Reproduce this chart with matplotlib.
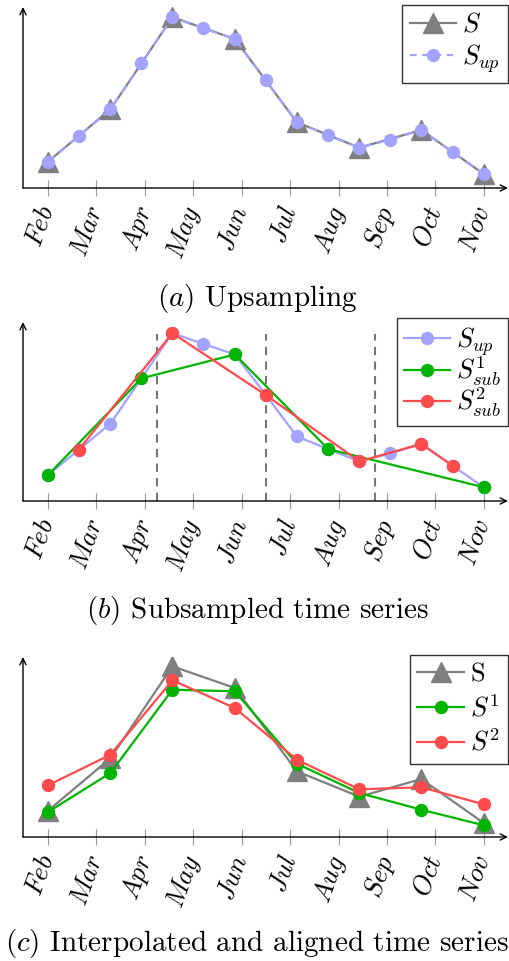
import matplotlib
matplotlib.use("Agg")
import matplotlib.pyplot as plt
from matplotlib.lines import Line2D

plt.rcParams['mathtext.fontset'] = 'cm'
plt.rcParams['font.family'] = ['cmr10', 'DejaVu Sans']
plt.rcParams['axes.unicode_minus'] = False

months = ['Feb', 'Mar', 'Apr', 'May', 'Jun', 'Jul', 'Aug', 'Sep', 'Oct', 'Nov']
month_pos = [0, 1, 2, 3, 4, 5, 6, 7, 8, 9]

# original series S (8 samples)
s_time = [0, 1.29, 2.57, 3.86, 5.14, 6.43, 7.71, 9]
s_vals = [26.3, 78.7, 170.7, 149, 65.7, 40.3, 58, 14]

# upsampled series S_up (15 samples)
sup_time = [0, 0.64, 1.29, 1.93, 2.57, 3.21, 3.86, 4.5, 5.14, 5.79, 6.43, 7.07, 7.71, 8.36, 9]
sup_vals = [26.3, 52.3, 78.7, 124.7, 170.7, 159.7, 149, 107.7, 65.7, 52.7, 40.3, 48.3, 58, 35.7, 14]

# subsampled series
sub1_time = [0, 1.93, 3.86, 5.79, 9]
sub1_vals = [26.3, 124.7, 149, 52.7, 14]
sub2_time = [0.64, 2.57, 4.5, 6.43, 7.71, 8.36]
sub2_vals = [52.3, 170.7, 107.7, 40.3, 58, 35.7]
cut_times = [2.25, 4.5, 6.75]
cut_top = 170

# interpolated & aligned series
s1_vals = [25, 64, 147.3, 145.7, 73.3, 44, 27.3, 11.7]
s2_vals = [51.7, 82.3, 156.7, 129, 77.3, 47.7, 49.7, 32.7]

GRAY = '#7f7f7f'
LAV = '#a3a3ff'
GREEN = '#00b400'
RED = '#ff4b4b'

W, H = 509, 961
fig = plt.figure(figsize=(W / 100, H / 100), dpi=100)

TICKFS = 19
LEGFS = 19
CAPFS = 21

XL = (-0.516, 9.5)


def make_axes(top_px, axis_px, ytop):
    left = 23
    right = 508
    ax = fig.add_axes([left / W, (H - axis_px) / H, (right - left) / W, (axis_px - top_px) / H])
    ax.set_xlim(*XL)
    ax.set_ylim(0, ytop)
    for sp in ax.spines.values():
        sp.set_visible(False)
    ax.set_yticks([])
    ax.set_xticks(month_pos)
    ax.set_xticklabels(['$' + m + '$' for m in months], rotation=70, ha='right',
                       va='center', rotation_mode='anchor', fontsize=TICKFS)
    ax.tick_params(axis='x', direction='inout', length=11, width=0.8, color='#9a9a9a', pad=8)
    ax.patch.set_alpha(0)
    ap = dict(arrowstyle='->,head_length=0.45,head_width=0.22', lw=1.0, color='black',
              shrinkA=0, shrinkB=0)
    ax.annotate('', xy=(1, 0), xytext=(0, 0), xycoords='axes fraction', arrowprops=ap,
                annotation_clip=False)
    ax.annotate('', xy=(0, 1), xytext=(0, 0), xycoords='axes fraction', arrowprops=ap,
                annotation_clip=False)
    return ax


def legend(ax, handles, labels, x_right_px, y_top_px, spacing, bpad=0.3):
    lg = ax.legend(handles, labels, loc='upper right',
                   bbox_to_anchor=(x_right_px / W, 1 - y_top_px / H),
                   bbox_transform=fig.transFigure, fontsize=LEGFS, frameon=True,
                   fancybox=False, edgecolor='#333333', framealpha=1,
                   handlelength=1.75, handletextpad=0.25, borderpad=bpad,
                   labelspacing=spacing, borderaxespad=0)
    lg.get_frame().set_linewidth(1.0)
    return lg


TRI = dict(marker='^', markersize=15, color=GRAY, lw=1.6)
DOT = dict(marker='o', markersize=8.6, lw=1.6)

# ---------- (a) ----------
axa = make_axes(7, 188, 181)
axa.plot(s_time, s_vals, **TRI, zorder=2)
axa.plot(sup_time, sup_vals, color=LAV, ls=(0, (4, 2.5)), marker='o', markersize=8.6, lw=1.6, zorder=3)
ha = [Line2D([], [], **TRI),
      Line2D([], [], color=LAV, ls=(0, (3, 2.5)), marker='o', markersize=8.6, lw=1.6)]
legend(axa, ha, ['$S$', '$S_{up}$'], 508, 5, 0.2)
fig.text(257 / W, 1 - 306 / H, r'$(a)$ Upsampling', ha='center', va='baseline', fontsize=CAPFS)

# ---------- (b) ----------
axb = make_axes(322, 501, 182)
axb.vlines(cut_times, 0, cut_top, colors='#777777', linestyles=(0, (4, 3)), lw=1.5, zorder=1)
axb.plot(sup_time, sup_vals, color=LAV, **DOT, zorder=2)
axb.plot(sub1_time, sub1_vals, color=GREEN, **DOT, zorder=3)
axb.plot(sub2_time, sub2_vals, color=RED, **DOT, zorder=4)
hb = [Line2D([], [], color=LAV, **DOT), Line2D([], [], color=GREEN, **DOT),
      Line2D([], [], color=RED, **DOT)]
legend(axb, hb, ['$S_{up}$', '$S^1_{sub}$', '$S^2_{sub}$'], 508, 318, -0.1, bpad=0.25)
fig.text(257 / W, 1 - 618 / H, r'$(b)$ Subsampled time series', ha='center', va='baseline', fontsize=CAPFS)

# ---------- (c) ----------
axc = make_axes(657, 837, 180)
axc.plot(s_time, s_vals, **TRI, zorder=2)
axc.plot(s_time, s1_vals, color=GREEN, **DOT, zorder=3)
axc.plot(s_time, s2_vals, color=RED, **DOT, zorder=4)
hc = [Line2D([], [], **TRI), Line2D([], [], color=GREEN, **DOT), Line2D([], [], color=RED, **DOT)]
legend(axc, hc, ['S', '$S^1$', '$S^2$'], 508, 655, 0.3)
fig.text(257 / W, 1 - 951 / H, r'$(c)$ Interpolated and aligned time series', ha='center', va='baseline', fontsize=CAPFS)

fig.savefig('out.png', dpi=100)
